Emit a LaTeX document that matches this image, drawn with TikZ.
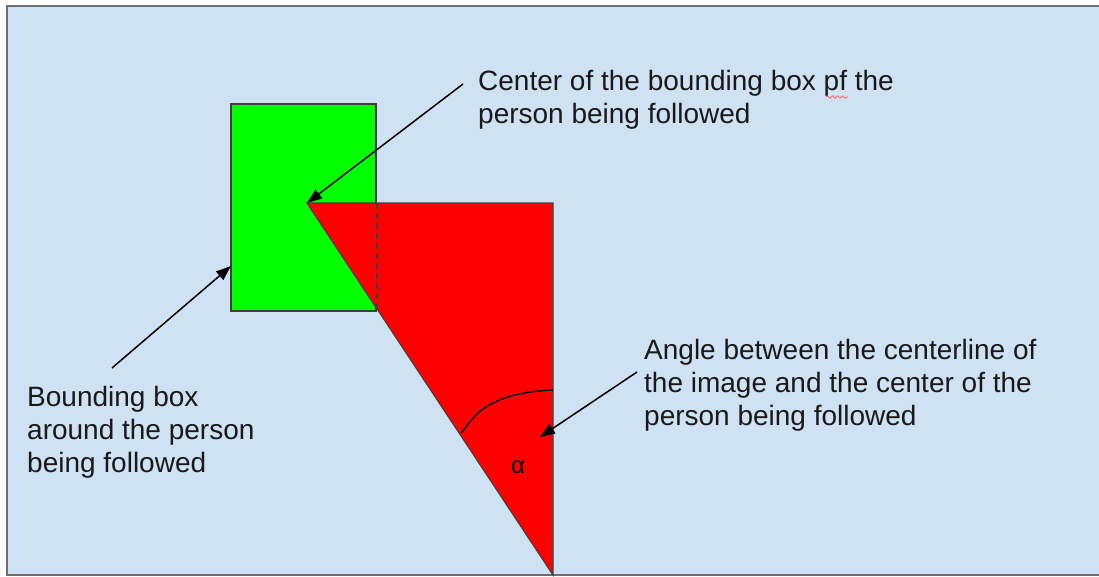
\documentclass[tikz,border=0pt]{standalone}
\usepackage{fontspec}
\setmainfont{Liberation Sans}
\usetikzlibrary{arrows.meta,decorations.pathmorphing}
\definecolor{paneblue}{HTML}{CFE2F3}
\definecolor{framegray}{HTML}{6E6E6E}

\begin{document}
\begin{tikzpicture}[x=1pt,y=-1pt,
  note/.style={anchor=base west,inner sep=0pt,align=left,text=black!90,font=\fontsize{28}{33}\selectfont},
  pointer/.style={draw=black,line width=1.5pt,-{Triangle[length=15pt,width=11pt]}},
  shape line/.style={draw=black!75,line width=1.2pt}]
  \useasboundingbox (0,0) rectangle (1099,576);
  \fill[paneblue] (7,6) rectangle (1110,575);
  \draw[framegray,line width=2pt] (1110,575) -- (7,575) -- (7,6) -- (1110,6);

  % bounding box and angle triangle
  \coordinate (apex) at (307,203);
  \coordinate (corner) at (553,203);
  \coordinate (foot) at (553,575);
  \draw[shape line,fill=green] (231,104) rectangle (376,311);
  \draw[shape line,fill=red] (apex) -- (corner) -- (foot) -- cycle;
  \draw[black!75,line width=1.2pt,dash pattern=on 6pt off 4pt] (377,203) -- (377,311);
  \draw[black,line width=1.4pt] (461,433) .. controls (470,425) and (478,393) .. (553,390);
  \node[font=\fontsize{24}{28}\selectfont] (alpha) at (518,467) {α};

  % labels (base = last line)
  \node[note] (centertext) at (478,123) {Center of the bounding box pf the\\person being followed};
  \node[note] (boxtext) at (27,472) {Bounding box\\around the person\\being followed};
  \node[note] (angletext) at (644,425) {Angle between the centerline of\\the image and the center of the\\person being followed};
  \draw[red!70,line width=0.6pt,decorate,decoration={snake,segment length=5pt,amplitude=1.3pt}] (826,97) -- (848,97);

  % pointers
  \coordinate (centertail) at (463,84);
  \coordinate (boxtail) at (112,368);
  \coordinate (boxedge) at (231,266);
  \coordinate (angletail) at (637,372);
  \coordinate (anglehead) at (540,437);
  \draw[pointer] (centertail) -- (apex);
  \draw[pointer] (boxtail) -- (boxedge);
  \draw[pointer] (angletail) -- (anglehead);
\end{tikzpicture}
\end{document}
